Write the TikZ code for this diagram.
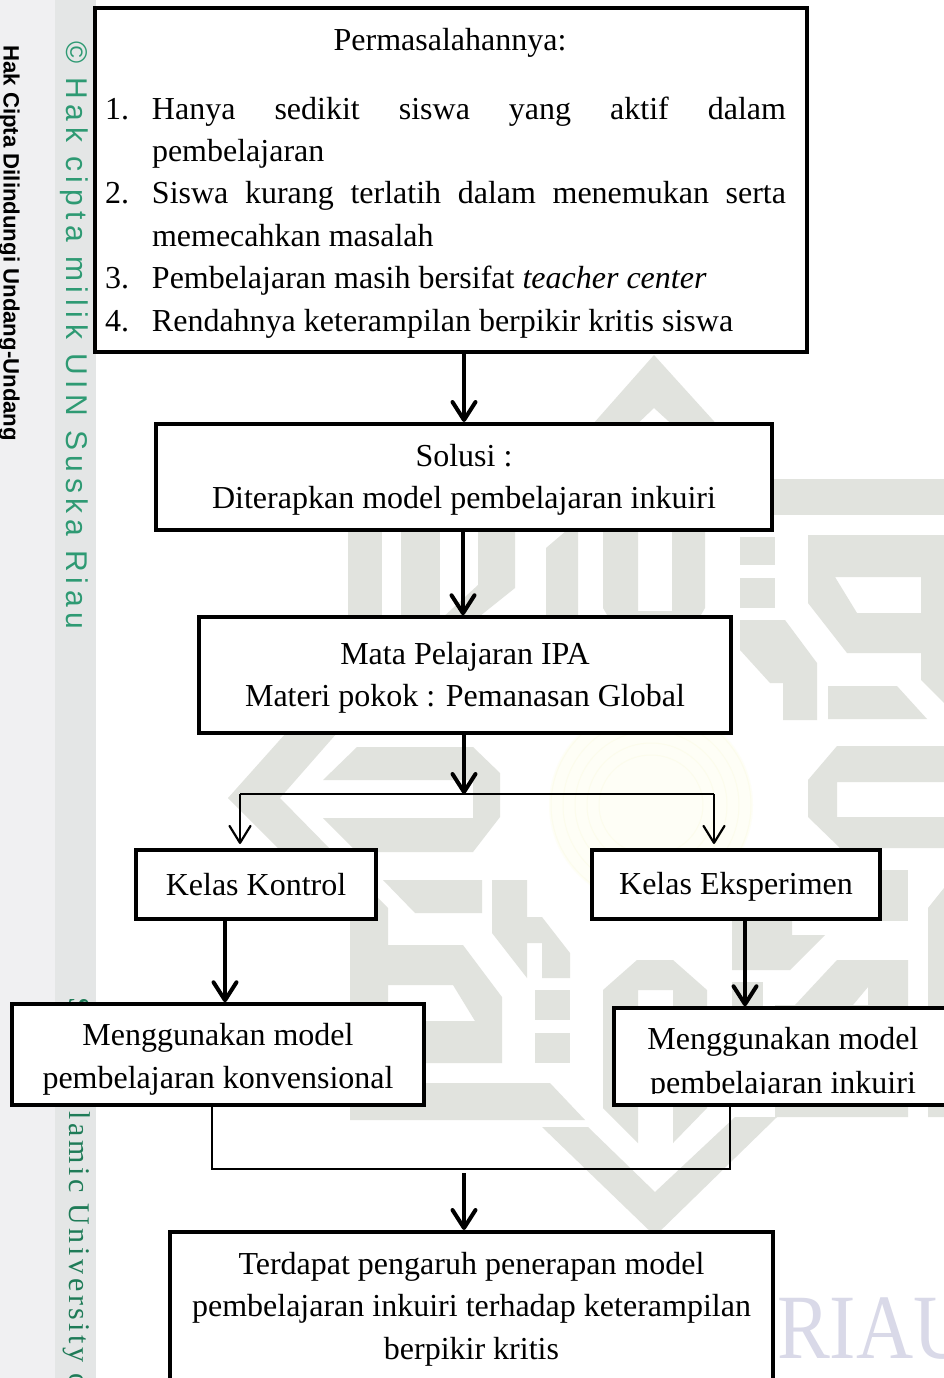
\documentclass[tikz,border=0pt]{standalone}
\usepackage{fontspec}
\setmainfont{Liberation Serif}
\newfontfamily\wmsans[LetterSpace=19]{Liberation Sans}
\newfontfamily\wmserif[LetterSpace=12]{Liberation Serif}
\newfontfamily\hakfont{Liberation Sans}
\usetikzlibrary{arrows.meta}
\definecolor{wmgray}{HTML}{E1E3DE}
\definecolor{wmyellow}{HTML}{FCFCEC}
\definecolor{wmyellowb}{HTML}{FEFEF6}
\definecolor{sideA}{HTML}{F0F0F2}
\definecolor{sideB}{HTML}{E4E6E6}
\definecolor{wmgreen}{HTML}{2E9A73}
\definecolor{wmgreenb}{HTML}{1E7B57}
\definecolor{wmriau}{HTML}{D9D9E8}
\newcommand{\lowerby}[1]{\rule{0pt}{#1pt}}
\tikzset{
  flowbox/.style={draw=black,line width=4pt,fill=white,inner sep=0pt,align=center,
    font=\fontsize{32}{42.4}\selectfont},
  heavyarrow/.style={line width=4pt,-{Straight Barb[length=18pt,width=23pt,round]}},
  lightarrow/.style={line width=2.2pt,-{Straight Barb[length=17pt,width=21pt,round]},shorten >=4pt},
  thinline/.style={line width=2pt},
  wm/.style={fill=wmgray,draw=none},
  seal/.style={draw=wmyellow,line width=1pt},
}
\begin{document}
\begin{tikzpicture}[x=1pt,y=-1pt]
\clip (0,0) rectangle (944,1378);
\fill[white] (0,0) rectangle (944,1378);
% sidebar
\fill[sideA] (0,0) rectangle (55,1378);
\fill[sideB] (55,0) rectangle (96,1378);
\node[rotate=-90,anchor=base west,inner sep=0pt,font=\hakfont\bfseries\fontsize{22.2}{22.2}\selectfont] (hak) at (3.5,45) {Hak Cipta Dilindungi Undang-Undang};
\node[rotate=-90,anchor=base west,inner sep=0pt,text=wmgreen,font=\wmsans\fontsize{30}{30}\selectfont] (uin) at (66.5,41) {© Hak cipta milik UIN Suska Riau};
\node[rotate=-90,anchor=base west,inner sep=0pt,text=wmgreenb,font=\wmserif\fontsize{30}{30}\selectfont] (sis) at (69,997) {State Islamic University o};
% faint seal
\fill[wmyellowb] (651,805) ellipse (102 and 100);
\foreach \r in {100,88,76,64,52}{
  \draw[seal] (651,805) ellipse ({\r} and {\r-2});
}
% watermark
\fill[wm] (654,355) -- (740,450) -- (700,450) -- (654,408) -- (610,450) -- (570,450) -- cycle;
\fill[wm] (720,479) rectangle (944,515);
\fill[wm] (348,525) rectangle (382,620);
\fill[wm] (401,525) rectangle (440,620);
\fill[wm] (478,525) -- (515,525) -- (515,588) -- (475,620) -- (440,620) -- (478,585) -- cycle;
\fill[wm] (546,548) -- (573,525) -- (578,525) -- (578,620) -- (546,620) -- cycle;
\fill[wm] (603,525) -- (638,525) -- (638,611) -- (672,611) -- (672,525) -- (705,525) -- (705,608) -- (698,620) -- (610,620) -- (603,608) -- cycle;
\fill[wm] (740,537) rectangle (775,565);
\fill[wm] (740,578) rectangle (775,608);
\fill[wm,even odd rule] (808,535) -- (944,535) -- (944,703) -- (921,680) -- (921,653) -- (847,653) -- (808,603) -- cycle
   (835,577) -- (921,577) -- (921,613) -- (857,613) -- cycle;
\fill[wm] (740,620) -- (785,620) -- (817,663) -- (817,720) -- (783,720) -- (783,683) -- (770,683) -- (740,650) -- cycle;
\fill[wm] (828,686) -- (897,686) -- (927,719) -- (828,719) -- cycle;
\fill[wm] (837,746) -- (944,746) -- (944,782) -- (837,782) -- (837,817) -- (944,817) -- (944,848) -- (840,848) -- (808,817) -- (808,780) -- cycle;
% lower right
\fill[wm] (870,870) rectangle (908,921);
\fill[wm] (928,908) -- (944,888) -- (944,1117) -- (928,1117) -- cycle;
\fill[wm] (732,919) -- (792,919) -- (792,935) -- (825,935) -- (790,970) -- (732,970) -- cycle;
\fill[wm] (732,982) rectangle (763,1010);
\fill[wm,even odd rule] (795,1005) -- (837,960) -- (908,960) -- (908,1117) -- (775,1117) -- (775,1005) -- cycle
   (853,1005) -- (868,987) -- (868,1005) -- cycle;
\fill[wm] (542,1127) -- (588,1127) -- (655,1192) -- (735,1117) -- (777,1117) -- (655,1236) -- cycle;
\fill[wm] (603,990) -- (637,960) -- (673,960) -- (707,990) -- (707,1108) -- (673,1143) -- (673,990) -- (638,990) -- (638,1143) -- (603,1108) -- cycle;
% left S
\fill[wm] (228,798) -- (286,733) -- (337,733) -- (280,798) -- cycle;
\fill[wm] (357,747) -- (473,747) -- (500,773) -- (500,817) -- (473,852) -- (357,852) -- (323,818) -- (473,818) -- (473,780) -- (323,780) -- cycle;
\fill[wm] (228,798) -- (280,798) -- (388,908) -- (388,1083) -- (550,1083) -- (585,1120) -- (350,1120) -- (350,920) -- cycle;
\fill[wm] (388,945) -- (463,945) -- (502,997) -- (502,1063) -- (388,1063) -- (388,1021) -- (475,1021) -- (453,985) -- (388,985) -- cycle;
\fill[wm] (383,880) -- (482,880) -- (482,913) -- (415,913) -- cycle;
\fill[wm] (492,880) -- (527,880) -- (527,917) -- (542,917) -- (570,953) -- (570,978) -- (542,978) -- (542,943) -- (527,943) -- (527,978) -- (492,933) -- cycle;
\fill[wm] (535,990) rectangle (570,1020);
\fill[wm] (535,1033) rectangle (570,1063);
% RIAU
\node[anchor=base west,inner sep=0pt,text=wmriau,font=\fontsize{92}{92}\selectfont] (riau) at (777,1358) {\scalebox{.86}[1]{RIAU}};
% boxes
\node[flowbox,minimum width=712pt,minimum height=344pt] (prob) at (451,180) {%
  \hspace*{-11pt}\begin{minipage}{681pt}\fontsize{32}{42.4}\selectfont
  \vspace*{6pt}
  {\centering\hspace*{9pt}Permasalahannya:\par}\vspace{26.4pt}
  \hangindent=47pt\hangafter=1\noindent\makebox[47pt][l]{1.}Hanya sedikit siswa yang aktif dalam\linebreak pembelajaran\par
  \hangindent=47pt\hangafter=1\noindent\makebox[47pt][l]{2.}Siswa kurang terlatih dalam menemukan serta\linebreak memecahkan masalah\par
  \hangindent=47pt\hangafter=1\noindent\makebox[47pt][l]{3.}Pembelajaran masih bersifat \textit{teacher center}\par
  \hangindent=47pt\hangafter=1\noindent\makebox[47pt][l]{4.}Rendahnya keterampilan berpikir kritis siswa\par
  \end{minipage}};
\node[flowbox,minimum width=616pt,minimum height=106pt] (sol) at (464,477) {\lowerby{28}Solusi :\\Diterapkan model pembelajaran inkuiri};
\node[flowbox,line width=3.5pt,minimum width=532pt,minimum height=116pt] (mapel) at (465,675) {\lowerby{28}Mata Pelajaran IPA\\Materi pokok : Pemanasan Global};
\node[flowbox,minimum width=240pt,minimum height=69pt] (kon) at (256,884.5) {Kelas Kontrol};
\node[flowbox,minimum width=288pt,minimum height=69pt] (eks) at (736,884.5) {\lowerby{26}Kelas Eksperimen};
\node[flowbox,line width=3.5pt,minimum width=412pt,minimum height=101pt] (mkon) at (218,1054.5) {\lowerby{32}Menggunakan model\\pembelajaran konvensional};
\node[flowbox,line width=3.5pt,minimum width=338pt,minimum height=97pt,font=\fontsize{32}{44}\selectfont] (mink) at (783,1056.5) {\lowerby{36}Menggunakan model\\pembelajaran inkuiri};
\fill[white] (640,1094) rectangle (930,1103);
\node[flowbox,minimum width=603pt,minimum height=150pt] (hasil) at (471.5,1307) {\lowerby{26}Terdapat pengaruh penerapan model\\pembelajaran inkuiri terhadap keterampilan\\berpikir kritis};
% connector coordinates
\coordinate (a1) at (464,0);
\coordinate (a2) at (463,0);
\coordinate (sp) at (464,794);
\coordinate (sl) at (240,794);
\coordinate (sr) at (714,794);
\coordinate (a4) at (225,0);
\coordinate (a5) at (745,0);
\coordinate (ml) at (212,1169);
\coordinate (mr) at (730,1169);
\coordinate (mm) at (464,1173);
% connectors
\draw[heavyarrow] (prob.south -| a1) -- (sol.north -| a1);
\draw[heavyarrow] (sol.south -| a2) -- (mapel.north -| a2);
\draw[heavyarrow] (mapel.south -| sp) -- (sp);
\draw[thinline] (sl) -- (sr);
\draw[lightarrow] (sl) -- (kon.north -| sl);
\draw[lightarrow] (sr) -- (eks.north -| sr);
\draw[heavyarrow] (kon.south -| a4) -- (mkon.north -| a4);
\draw[heavyarrow] (eks.south -| a5) -- (mink.north -| a5);
\draw[thinline] (mkon.south -| ml) -- (ml) -- (mr) -- (mink.south -| mr);
\draw[heavyarrow] (mm) -- (hasil.north -| mm);
\end{tikzpicture}
\end{document}
